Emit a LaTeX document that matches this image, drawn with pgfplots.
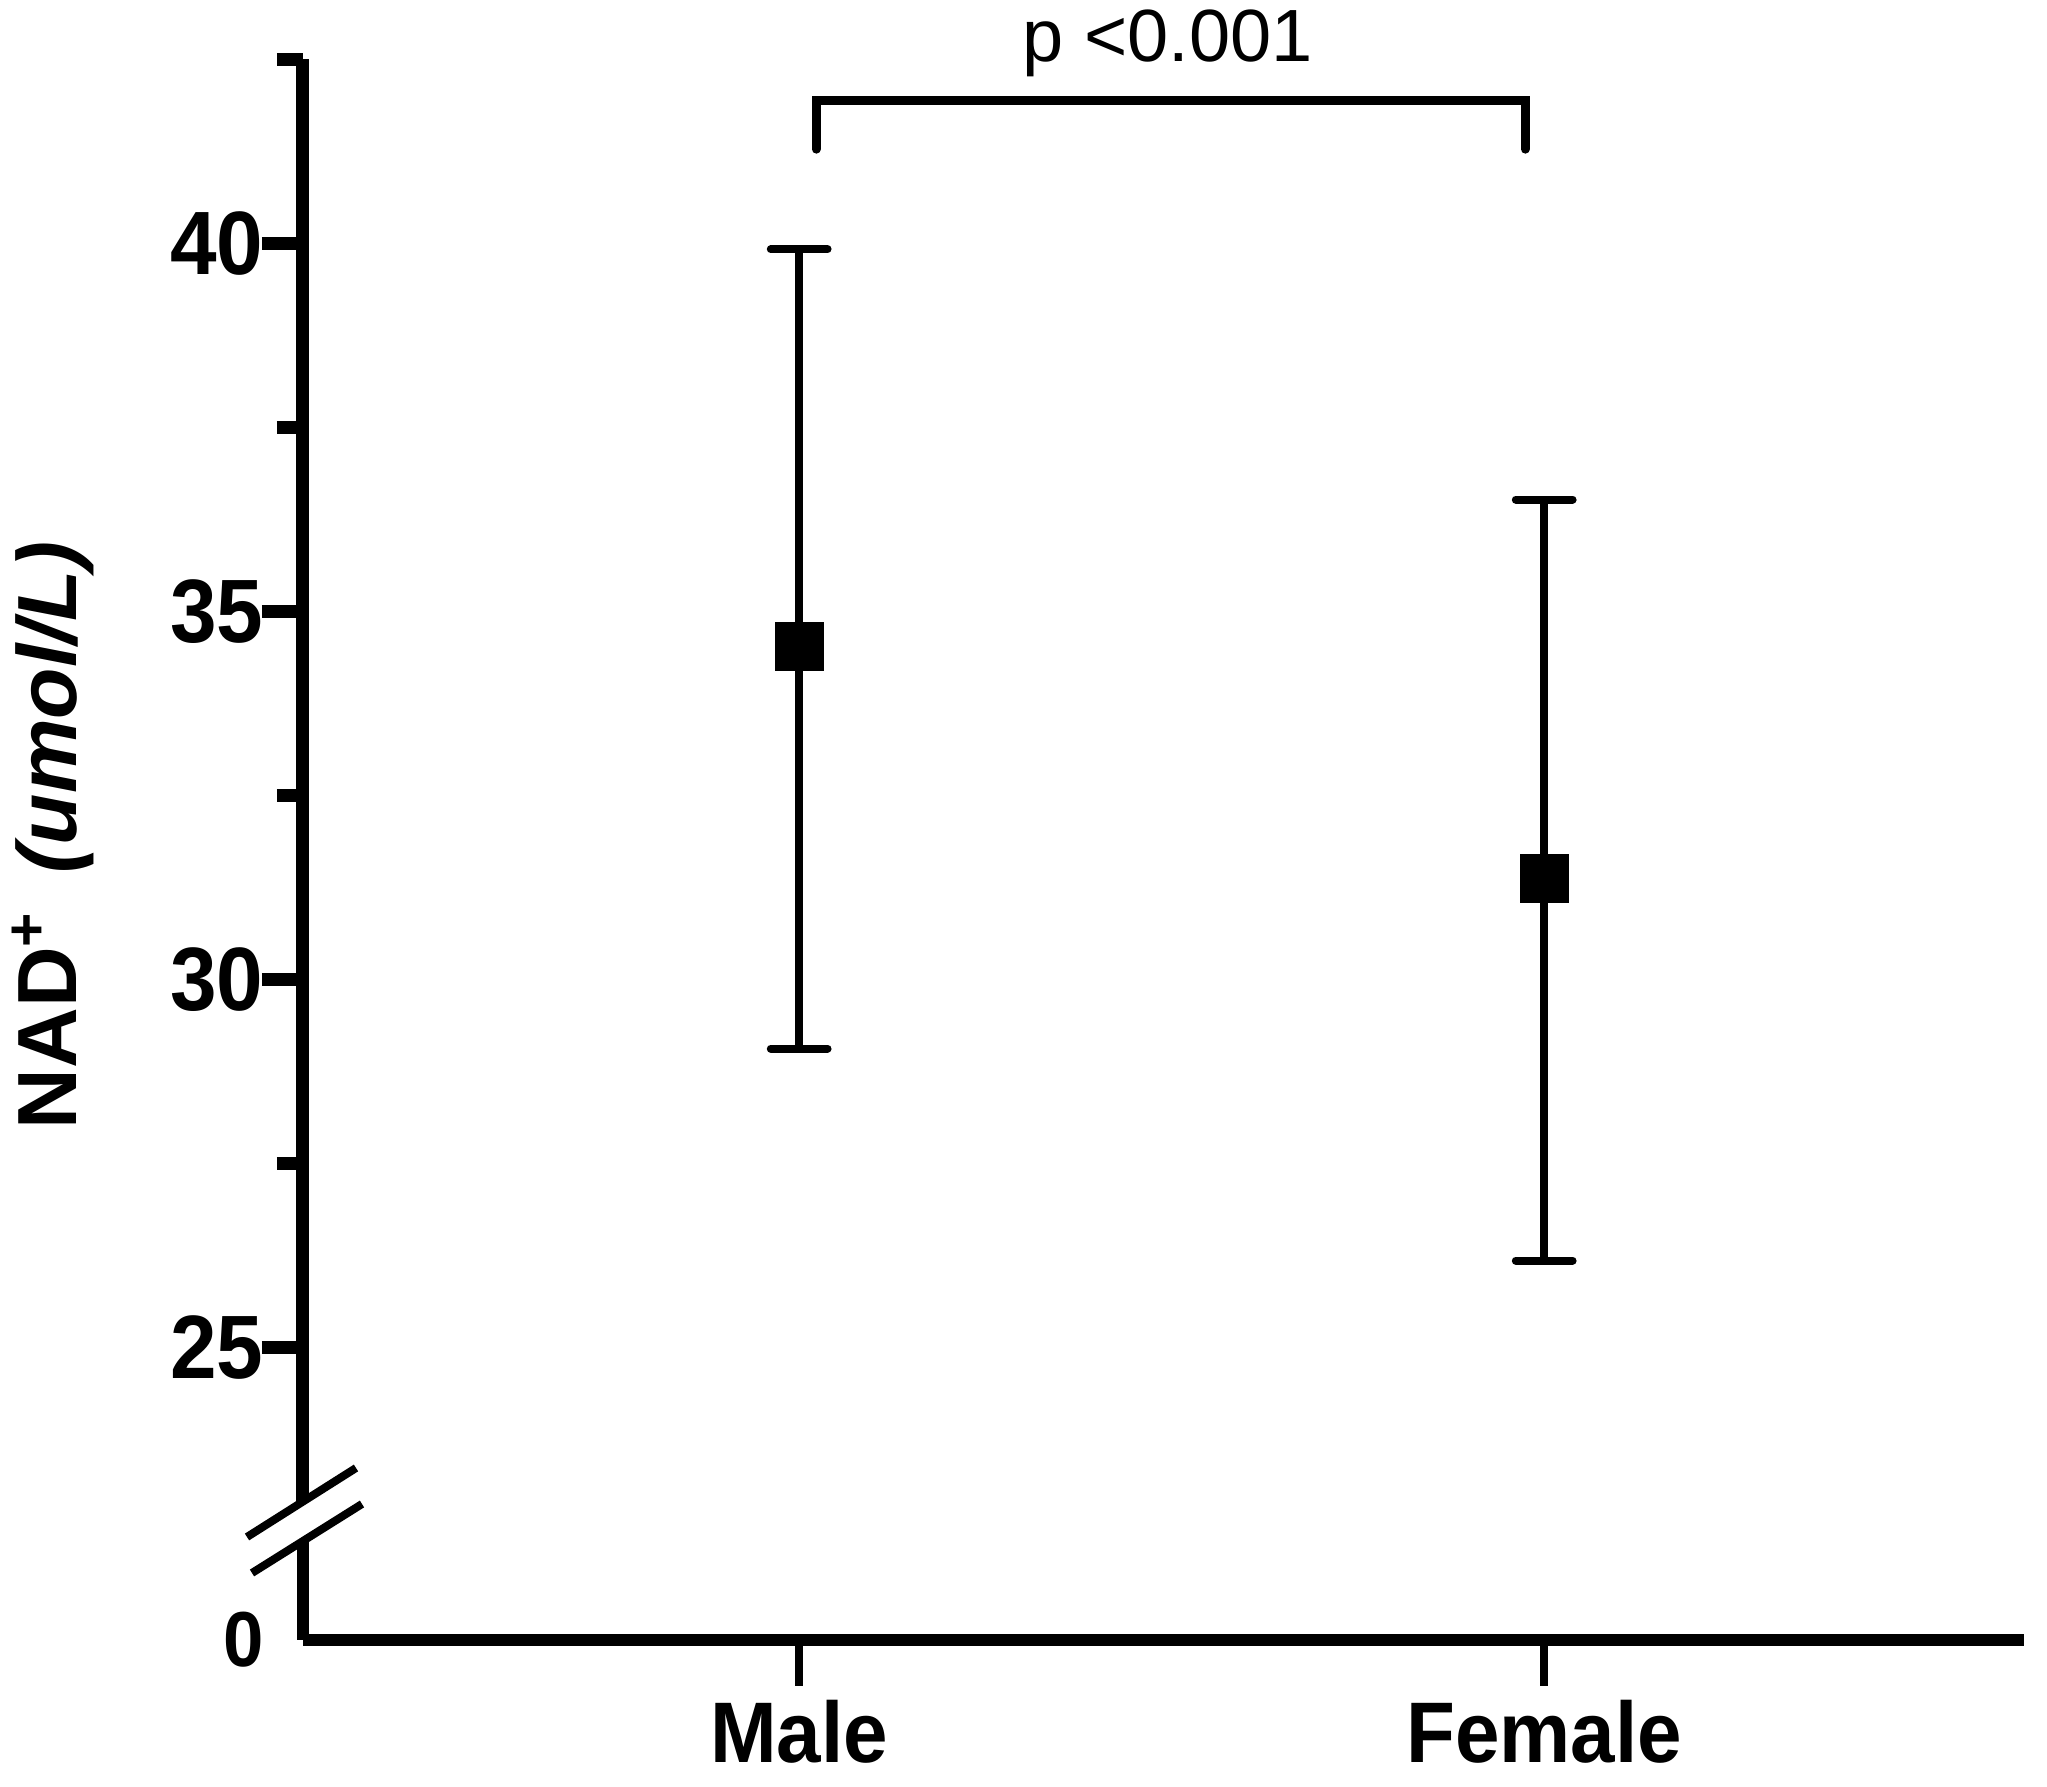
\documentclass[border=0pt]{standalone}
\usepackage{fontspec}
\setmainfont{Liberation Sans}
\newfontfamily\cb{Liberation Sans}[FakeStretch=0.93]
\usepackage{pgfplots}
\pgfplotsset{compat=1.18}
\begin{document}
\begin{tikzpicture}
\path[use as bounding box] (0,0) rectangle (511.75pt,446.75pt);
% lower segment with the x axis
\begin{axis}[
 at={(75.75pt,36.75pt)}, anchor=south west, scale only axis,
 width=430.25pt, height=24.75pt,
 xmin=-0.666, xmax=1.644, ymin=0, ymax=1,
 axis x line*=bottom, axis y line*=left,
 axis line style={-, line width=3pt, black},
 xtick={0,1}, xticklabels={Male,Female},
 ytick={0},
 tick align=outside,
 major tick length=11.5pt,
 xtick style={line width=2pt, black},
 ytick style={draw=none},
 xticklabel style={font=\cb\bfseries\fontsize{21.5}{21.5}\selectfont, inner sep=0pt, anchor=north, yshift=-3.4pt},
 yticklabel style={font=\cb\bfseries\fontsize{19.5}{19.5}\selectfont, inner sep=0pt, anchor=east, xshift=2pt},
 /pgf/number format/assume math mode=true,
]
\end{axis}
% upper segment with the data
\begin{axis}[
 at={(75.75pt,71.25pt)}, anchor=south west, scale only axis,
 width=430.25pt, height=360.65pt,
 xmin=-0.666, xmax=1.644, ymin=22.9, ymax=42.5,
 axis x line=none, axis y line*=left,
 axis line style={-, line width=3.25pt, black},
 xtick=\empty,
 ytick={25,30,35,40}, minor ytick={27.5,32.5,37.5,42.5},
 tick align=outside, major tick length=10.25pt, minor tick length=6.5pt,
 major tick style={line width=3.25pt, black},
 minor tick style={line width=3.25pt, black},
 yticklabel style={font=\cb\bfseries\fontsize{22.5}{22.5}\selectfont, inner sep=0pt, anchor=east, xshift=0.5pt},
 /pgf/number format/assume math mode=true,
 ylabel={NAD\textsuperscript{+}\hspace{0.45em}\textit{(umol/L)}},
 ylabel style={at={(axis description cs:-0.1318,0.462)}, anchor=base, font=\bfseries\fontsize{21}{21}\selectfont},
 clip=false,
]
\addplot[only marks, mark=square*, mark size=6pt, black, mark options={line width=0.25pt},
 error bars/.cd, y dir=both, y explicit,
 error bar style={line width=2pt, black},
 error mark options={rotate=90, line width=2pt, mark size=7.1pt, black, line cap=round}]
 table[x=x, y=y, y error plus=ep, y error minus=em] {
 x y ep em
 0 34.52 5.40 5.46
 1 31.37 5.15 5.19
 };
\draw[line width=2.25pt, line cap=round, line join=miter]
 (axis cs:0.0228,41.28) -- (axis cs:0.0228,41.94) -- (axis cs:0.9745,41.94) -- (axis cs:0.9745,41.28);
\node[anchor=base, font=\fontsize{18.5}{18.5}\selectfont, inner sep=0pt] at (axis cs:0.495,42.47) {p <0.001};
\end{axis}
% axis break marks
\draw[line width=2pt] (61.75pt,62.5pt) -- (89pt,79.75pt);
\draw[line width=2pt] (63pt,53.5pt) -- (90.5pt,70.75pt);
\end{tikzpicture}
\end{document}
